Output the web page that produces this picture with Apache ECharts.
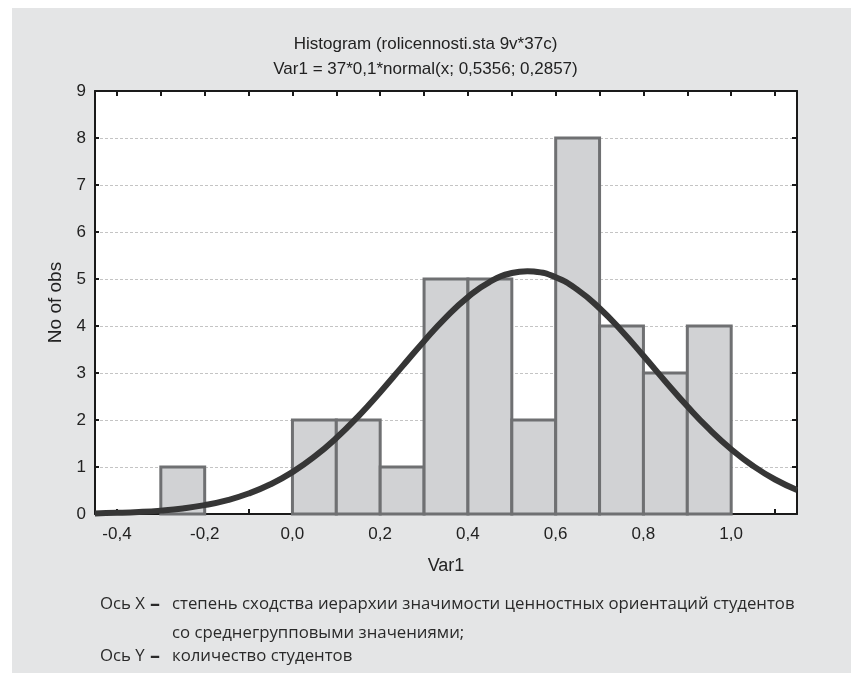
<!DOCTYPE html>
<html>
<head>
<meta charset="utf-8">
<script src="https://cdn.jsdelivr.net/npm/echarts@6/dist/echarts.min.js"></script>
<style>
html,body{margin:0;padding:0;background:#ffffff;}
#chart{width:851px;height:673px;}
</style>
</head>
<body>
<div id="chart"></div>
<script>
// ---- data ----
const binStarts = [-0.3, 0.0, 0.1, 0.2, 0.3, 0.4, 0.5, 0.6, 0.7, 0.8, 0.9];
const binEnds   = [-0.2, 0.1, 0.2, 0.3, 0.4, 0.5, 0.6, 0.7, 0.8, 0.9, 1.0];
const counts    = [1, 2, 2, 1, 5, 5, 2, 8, 4, 3, 4];
const curveX = [-0.45,-0.4,-0.35,-0.3,-0.25,-0.2,-0.15,-0.1,-0.05,0,0.05,0.1,0.15,0.2,0.25,0.3,0.35,0.4,0.45,0.5,0.5356,0.55,0.6,0.65,0.7,0.75,0.8,0.85,0.9,0.95,1.0,1.05,1.1,1.15];
const curveY = [0.013,0.024,0.042,0.072,0.118,0.188,0.290,0.435,0.632,0.891,1.219,1.616,2.078,2.592,3.135,3.677,4.184,4.616,4.940,5.127,5.167,5.160,5.037,4.769,4.378,3.899,3.367,2.820,2.291,1.804,1.379,1.022,0.734,0.512];
const xLabelValues = [-0.4, -0.2, 0.0, 0.2, 0.4, 0.6, 0.8, 1.0];
const xTickValues = [-0.4,-0.3,-0.2,-0.1,0.0,0.1,0.2,0.3,0.4,0.5,0.6,0.7,0.8,0.9,1.0,1.1];
const titleText = 'Histogram (rolicennosti.sta 9v*37c)';
const subtitleText = 'Var1 = 37*0,1*normal(x; 0,5356; 0,2857)';
const xName = 'Var1';
const yName = 'No of obs';

const chart = echarts.init(document.getElementById('chart'), null, {renderer:'canvas'});
const fmt = v => (Math.abs(v) < 1e-9 ? 0 : v).toFixed(1).replace('.', ',');
const axisFont = {fontFamily:'Liberation Sans', fontSize:17, color:'#222'};
const nameFont = {fontFamily:'Liberation Sans', fontSize:18, color:'#222'};
const capFont = '16.8px "Open Sans"';

const option = {
  animation:false,
  backgroundColor:'#ffffff',
  graphic:[
    {type:'rect', left:12, top:8, shape:{width:839, height:665}, style:{fill:'#e4e5e6'}, z:-10, silent:true},
    {type:'text', left:100, top:596, style:{text:'Ось X', font:capFont, fill:'#2a2a2a'}},
    {type:'text', left:150, top:594, style:{text:'–', font:'bold 20px "Open Sans"', fill:'#2a2a2a'}},
    {type:'text', left:172, top:596, style:{text:'степень сходства иерархии значимости ценностных ориентаций студентов', font:capFont, fill:'#2a2a2a'}},
    {type:'text', left:172, top:625, style:{text:'со среднегрупповыми значениями;', font:capFont, fill:'#2a2a2a'}},
    {type:'text', left:100, top:648, style:{text:'Ось Y', font:capFont, fill:'#2a2a2a'}},
    {type:'text', left:150, top:646, style:{text:'–', font:'bold 20px "Open Sans"', fill:'#2a2a2a'}},
    {type:'text', left:172, top:648, style:{text:'количество студентов', font:capFont, fill:'#2a2a2a'}}
  ],
  title:[
    {text:titleText, left:'center', top:31, textStyle:{fontFamily:'Liberation Sans', fontSize:17, fontWeight:'normal', color:'#222'}},
    {text:subtitleText, left:'center', top:56, textStyle:{fontFamily:'Liberation Sans', fontSize:17, fontWeight:'normal', color:'#222'}}
  ],
  grid:{left:95, top:91, right:54, bottom:159, show:true, backgroundColor:'#ffffff', borderWidth:0},
  xAxis:[
    {type:'value', min:-0.45, max:1.15, position:'bottom',
     name:xName, nameLocation:'middle', nameGap:43, nameTextStyle:nameFont,
     axisLine:{show:true, onZero:false, lineStyle:{color:'#1a1a1a', width:2}},
     axisTick:{show:true, inside:true, length:5, customValues:xTickValues, lineStyle:{color:'#1a1a1a', width:2}},
     axisLabel:{show:true, customValues:xLabelValues, formatter:fmt, margin:12, ...axisFont},
     splitLine:{show:false}},
    {type:'value', min:-0.45, max:1.15, position:'top',
     axisLine:{show:true, onZero:false, lineStyle:{color:'#1a1a1a', width:2}},
     axisTick:{show:true, inside:true, length:5, customValues:xTickValues, lineStyle:{color:'#1a1a1a', width:2}},
     axisLabel:{show:false}, splitLine:{show:false}}
  ],
  yAxis:[
    {type:'value', min:0, max:9, interval:1, position:'left',
     name:yName, nameLocation:'middle', nameGap:26, nameRotate:90, nameTextStyle:{...nameFont, fontSize:19},
     axisLine:{show:true, onZero:false, lineStyle:{color:'#1a1a1a', width:2}},
     axisTick:{show:true, inside:true, length:4, lineStyle:{color:'#1a1a1a', width:2}},
     axisLabel:{show:true, margin:9, ...axisFont},
     splitLine:{show:true, lineStyle:{color:'#c4c4c4', type:[3,2], width:1}}},
    {type:'value', min:0, max:9, interval:1, position:'right',
     axisLine:{show:true, onZero:false, lineStyle:{color:'#1a1a1a', width:2}},
     axisTick:{show:true, inside:true, length:5, lineStyle:{color:'#1a1a1a', width:2}},
     axisLabel:{show:false}, splitLine:{show:false}}
  ],
  series:[
    {type:'custom', xAxisIndex:0, yAxisIndex:0, z:3,
     data: binStarts.map((s,i)=>[s, binEnds[i], counts[i]]),
     renderItem:function(params, api){
       const p0 = api.coord([api.value(0), api.value(2)]);
       const p1 = api.coord([api.value(1), 0]);
       return {type:'rect', shape:{x:p0[0], y:p0[1], width:p1[0]-p0[0], height:p1[1]-p0[1]},
               style:{fill:'#d1d2d4', stroke:'#6f7072', lineWidth:3}};
     }},
    {type:'line', xAxisIndex:0, yAxisIndex:0, z:5, smooth:true, symbol:'none',
     data: curveX.map((x,i)=>[x, curveY[i]]),
     lineStyle:{color:'#363636', width:6}, clip:true}
  ]
};
chart.setOption(option);
</script>
</body>
</html>
